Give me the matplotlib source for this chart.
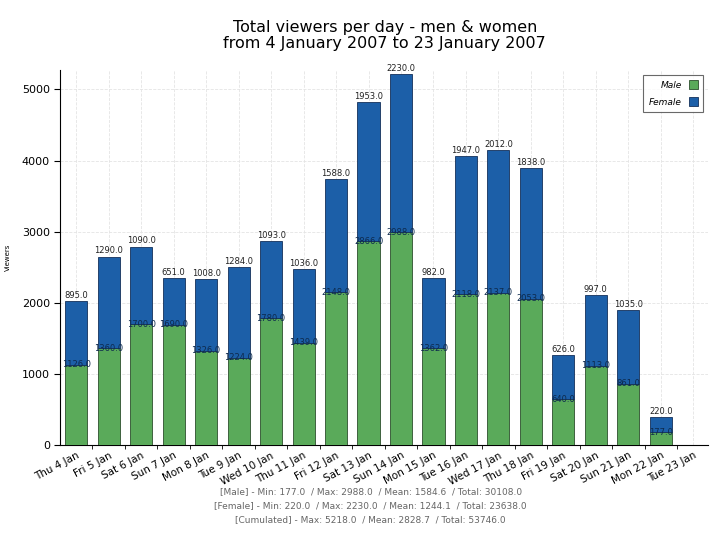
import matplotlib
matplotlib.use("Agg")
import matplotlib.pyplot as plt
import numpy as np

DAYS = ["Thu 4 Jan", "Fri 5 Jan", "Sat 6 Jan", "Sun 7 Jan", "Mon 8 Jan",
        "Tue 9 Jan", "Wed 10 Jan", "Thu 11 Jan", "Fri 12 Jan", "Sat 13 Jan",
        "Sun 14 Jan", "Mon 15 Jan", "Tue 16 Jan", "Wed 17 Jan", "Thu 18 Jan",
        "Fri 19 Jan", "Sat 20 Jan", "Sun 21 Jan", "Mon 22 Jan", "Tue 23 Jan"]
MALE = [1126, 1360, 1700, 1690, 1326, 1224, 1780, 1439, 2148, 2866,
        2988, 1362, 2118, 2137, 2053, 640, 1113, 861, 177, 0]
FEMALE = [895, 1290, 1090, 651, 1008, 1284, 1093, 1036, 1588, 1953,
          2230, 982, 1947, 2012, 1838, 626, 997, 1035, 220, 0]

TITLE = "Total viewers per day - men & women\nfrom 4 January 2007 to 23 January 2007"
STATS = [
    "[Male] - Min: 177.0  / Max: 2988.0  / Mean: 1584.6  / Total: 30108.0",
    "[Female] - Min: 220.0  / Max: 2230.0  / Mean: 1244.1  / Total: 23638.0",
    "[Cumulated] - Max: 5218.0  / Mean: 2828.7  / Total: 53746.0",
]

GREEN = "#5aaa5a"
BLUE = "#1c5fa8"


def main():
    male = np.array(MALE)
    female = np.array(FEMALE)
    x = np.arange(len(DAYS))

    fig = plt.figure(figsize=(7.1, 5.4), dpi=100)
    ax = fig.add_axes([0.085, 0.176, 0.912, 0.694])

    ax.bar(x, male, width=0.68, color=GREEN, edgecolor="#2d4f2d",
           linewidth=0.6, label="Male", zorder=3)
    ax.bar(x, female, width=0.68, bottom=male, color=BLUE, edgecolor="#14305a",
           linewidth=0.6, label="Female", zorder=3)

    for i in range(len(DAYS)):
        if male[i] + female[i] == 0:
            continue
        ax.text(x[i], male[i] + female[i] + 15, f"{female[i]:.1f}",
                ha="center", va="bottom", fontsize=6, color="#222222", zorder=4)
        ax.text(x[i], male[i], f"{male[i]:.1f}",
                ha="center", va="center", fontsize=6, color="#0d2a4d", zorder=4)

    ax.set_xlim(-0.49, 19.45)
    ax.set_ylim(0, 5270)
    ax.set_yticks([0, 1000, 2000, 3000, 4000, 5000])
    ax.set_xticks(x)
    ax.set_xticklabels(DAYS, rotation=28, ha="right", rotation_mode="anchor",
                       fontsize=7.5)
    ax.set_xticks(x[:-1] + 0.5, minor=True)
    ax.tick_params(axis="x", which="major", length=0, pad=4)
    ax.tick_params(axis="x", which="minor", length=3)
    ax.tick_params(axis="y", labelsize=8, length=4)
    ax.set_ylabel("Viewers", fontsize=5, labelpad=8)

    ax.grid(True, color="#e4e4e4", linestyle="--", linewidth=0.6, zorder=0)
    for side in ("top", "right"):
        ax.spines[side].set_visible(False)

    leg = ax.legend(loc="upper right", markerfirst=False, fontsize=6.5,
                    handlelength=1.0, handleheight=1.2, borderpad=0.6,
                    labelspacing=0.8, fancybox=False, edgecolor="#444444",
                    prop={"size": 6.5, "style": "italic"})
    leg.get_frame().set_linewidth(0.8)

    fig.text(0.542, 0.963, TITLE, ha="center", va="top", fontsize=11.5,
             linespacing=1.1)
    for k, line in enumerate(STATS):
        fig.text(0.522, 0.090 - k * 0.026, line, ha="center", va="center",
                 fontsize=6.5, color="#666666")

    fig.savefig("out.png", dpi=100)


if __name__ == "__main__":
    main()
